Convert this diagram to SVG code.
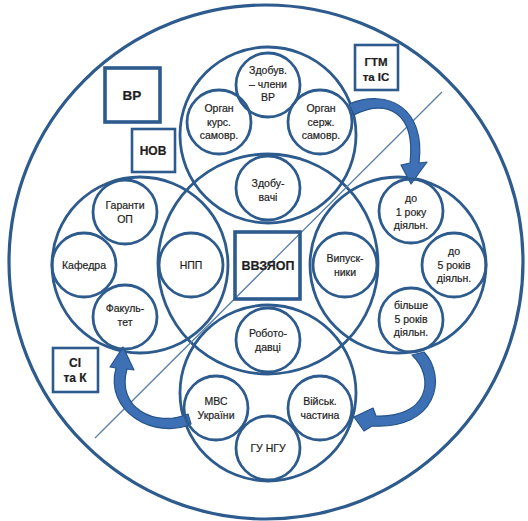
<svg xmlns="http://www.w3.org/2000/svg" width="528" height="521" viewBox="0 0 528 521">
<style>
.c{fill:none;stroke:#2d5b8e;stroke-width:2.8}
.o{fill:none;stroke:#2d5b8e;stroke-width:3.2}
.bx{fill:none;stroke:#2d5b8e;stroke-width:2.6}
.bx2{fill:none;stroke:#2d5b8e;stroke-width:3.6}
text{font-family:"Liberation Sans",Arial,sans-serif;font-size:10.5px;fill:#1e1e1e;stroke:#1e1e1e;stroke-width:0.2;text-anchor:middle}
.bt{font-weight:bold;font-size:12px}
.arr{fill:#3d70b4;stroke:#27548a;stroke-width:1.2;stroke-linejoin:round}
.diag{stroke:#5a7ea8;stroke-width:1.3}
</style>
<rect width="528" height="521" fill="#ffffff"/>
<g id="outer"><circle class="o" cx="266" cy="262" r="257"/></g>
<g id="cluster-top"><circle class="c" cx="268" cy="135" r="88"/></g>
<g id="cluster-left"><circle class="c" cx="140" cy="265" r="88"/></g>
<g id="cluster-right"><circle class="c" cx="398" cy="265" r="88"/></g>
<g id="cluster-bottom"><circle class="c" cx="268" cy="393" r="88"/></g>
<g id="center"><circle class="c" cx="268" cy="264" r="110"/></g>

<g id="connectors">
<line class="diag" x1="95" y1="438" x2="442" y2="92"/>
<path class="arr" d="M349,104 C388,88 426,108 419,163 L427,162 L411,184 L401,165 L410,163 C416,112 386,98 354,115 Z"/>
<path class="arr" d="M424,352 C448,378 436,430 372,426 L364,431 L354,417 L373,408 L376,416 C428,418 436,378 412,355 Z"/>
<path class="arr" d="M191,424 C155,440 104,412 116,368 L110,367 L123,347 L134,370 L127,369 C116,408 155,428 188,414 Z"/>
</g>

<g id="n-zdobuv-vr"><circle class="c" cx="268" cy="85" r="32"/><text x="268" y="74">Здобув.</text><text x="268" y="88">– члени</text><text x="268" y="101">ВР</text></g>
<g id="n-organ-kurs"><circle class="c" cx="219" cy="122" r="32"/><text x="219" y="112">Орган</text><text x="219" y="126">курс.</text><text x="219" y="139">самовр.</text></g>
<g id="n-organ-serzh"><circle class="c" cx="320" cy="122" r="32"/><text x="321" y="112">Орган</text><text x="321" y="126">серж.</text><text x="321" y="139">самовр.</text></g>
<g id="n-zdobuvachi"><circle class="c" cx="268" cy="188" r="32"/><text x="268" y="187">Здобу-</text><text x="268" y="201">вачі</text></g>

<g id="n-garanty"><circle class="c" cx="125" cy="212" r="32"/><text x="125" y="209">Гаранти</text><text x="125" y="223">ОП</text></g>
<g id="n-kafedra"><circle class="c" cx="84" cy="265" r="32"/><text x="84" y="269">Кафедра</text></g>
<g id="n-fakultet"><circle class="c" cx="125" cy="317" r="32"/><text x="125" y="312">Факуль-</text><text x="125" y="326">тет</text></g>
<g id="n-npp"><circle class="c" cx="191" cy="265" r="32"/><text x="191" y="269">НПП</text></g>

<g id="n-vypusknyky"><circle class="c" cx="345" cy="265" r="32"/><text x="345" y="262">Випуск-</text><text x="345" y="276">ники</text></g>
<g id="n-do1"><circle class="c" cx="411" cy="211" r="32"/><text x="411" y="202">до</text><text x="411" y="216">1 року</text><text x="411" y="229">діяльн.</text></g>
<g id="n-do5"><circle class="c" cx="454" cy="265" r="32"/><text x="454" y="255">до</text><text x="454" y="269">5 років</text><text x="454" y="282">діяльн.</text></g>
<g id="n-bilshe5"><circle class="c" cx="411" cy="320" r="32"/><text x="411" y="309">більше</text><text x="411" y="323">5 років</text><text x="411" y="336">діяльн.</text></g>

<g id="n-robotodavtsi"><circle class="c" cx="268" cy="340" r="32"/><text x="268" y="337">Робото-</text><text x="268" y="351">давці</text></g>
<g id="n-mvs"><circle class="c" cx="216" cy="408" r="32"/><text x="216" y="405">МВС</text><text x="216" y="419">України</text></g>
<g id="n-viysk"><circle class="c" cx="320" cy="408" r="32"/><text x="320" y="405">Військ.</text><text x="320" y="419">частина</text></g>
<g id="n-gu-ngu"><circle class="c" cx="268" cy="448" r="32"/><text x="268" y="452">ГУ НГУ</text></g>

<g id="b-vvzyaop"><rect class="bx2" x="235" y="232" width="65" height="67"/><text class="bt" x="268" y="270" style="font-size:12.5px">ВВЗЯОП</text></g>
<g id="b-vr"><rect class="bx2" x="105" y="68" width="55" height="54"/><text class="bt" x="132" y="100" style="font-size:13.5px">ВР</text></g>
<g id="b-nov"><rect class="bx" x="132" y="129" width="43" height="43"/><text class="bt" x="153" y="155">НОВ</text></g>
<g id="b-gtm"><rect class="bx" x="355" y="45" width="43" height="45"/><text class="bt" x="376" y="66" style="font-size:11.5px">ГТМ</text><text class="bt" x="376" y="81" style="font-size:11.5px">та ІС</text></g>
<g id="b-sik"><rect class="bx" x="53" y="348" width="45" height="44"/><text class="bt" x="75" y="367">СІ</text><text class="bt" x="75" y="382">та К</text></g>
</svg>
